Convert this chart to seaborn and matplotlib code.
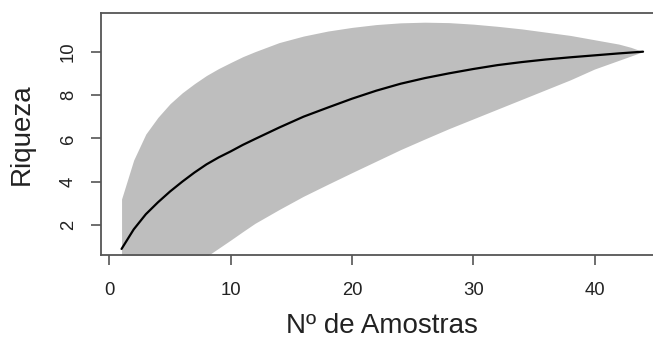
import numpy as np
import pandas as pd
import matplotlib
matplotlib.use("Agg")
import matplotlib.pyplot as plt
import seaborn as sns

# amostras (eixo x)
amostras = [1, 2, 3, 4, 5, 6, 7, 8, 9, 10, 11, 12, 14, 16, 18, 20, 22, 24,
            26, 28, 30, 32, 34, 36, 38, 40, 42, 43, 44]

# riqueza media (curva de acumulacao)
riqueza = [0.9, 1.8, 2.5, 3.05, 3.55, 4.0, 4.42, 4.8, 5.12, 5.4, 5.7, 5.97,
           6.5, 7.0, 7.42, 7.83, 8.2, 8.52, 8.78, 9.0, 9.2, 9.38, 9.52, 9.64,
           9.74, 9.83, 9.92, 9.96, 10.0]

# limites do intervalo (poligono cinza)
limite_sup = [3.2, 5.0, 6.2, 6.97, 7.6, 8.1, 8.52, 8.9, 9.22, 9.5, 9.77,
              10.0, 10.42, 10.72, 10.95, 11.12, 11.25, 11.33, 11.36, 11.34,
              11.27, 11.17, 11.05, 10.9, 10.75, 10.55, 10.35, 10.2, 10.0]
limite_inf = [-1.4, -1.3, -1.15, -0.85, -0.5, -0.1, 0.3, 0.55, 0.93, 1.31,
              1.7, 2.08, 2.72, 3.33, 3.88, 4.42, 4.95, 5.48, 5.97, 6.45, 6.9,
              7.35, 7.8, 8.25, 8.7, 9.2, 9.6, 9.8, 10.0]

x_ticks = [0, 10, 20, 30, 40]
y_ticks = [2, 4, 6, 8, 10]

df = pd.DataFrame({"amostras": amostras, "riqueza": riqueza,
                   "sup": limite_sup, "inf": limite_inf})

sns.set_style("white")
plt.rcParams["font.family"] = ["Liberation Sans", "DejaVu Sans"]

fig = plt.figure(figsize=(6.53, 3.42), dpi=100)
ax = fig.add_axes([0.1542, 0.2544, 0.8625, 0.7067])

# poligono do intervalo
ax.fill_between(df["amostras"], df["inf"], df["sup"], color="#bebebe",
                linewidth=0)

# curva media
sns.lineplot(data=df, x="amostras", y="riqueza", color="black",
             linewidth=1.6, ax=ax)

ax.set_xlim(-0.72, 45.72)
ax.set_ylim(0.62, 11.77)
ax.set_xticks(x_ticks)
ax.set_yticks(y_ticks)

for s in ax.spines.values():
    s.set_color("#555555")
    s.set_linewidth(1.3)

ax.tick_params(axis="both", direction="out", length=7.2, width=1.2,
               color="#555555", labelsize=13.3, labelcolor="#222222",
               bottom=True, left=True)
ax.tick_params(axis="x", pad=12)
ax.tick_params(axis="y", pad=10)
for lab in ax.get_yticklabels():
    lab.set_rotation(90)
    lab.set_va("center")

ax.set_xlabel("Nº de Amostras", fontsize=20, color="#222222", va="center")
ax.set_ylabel("Riqueza", fontsize=20, color="#222222", va="center",
              ha="center")
ax.xaxis.set_label_coords(0.5, -0.294)
ax.yaxis.set_label_coords(-0.1397, 0.5)

fig.savefig("out.png", dpi=100)
